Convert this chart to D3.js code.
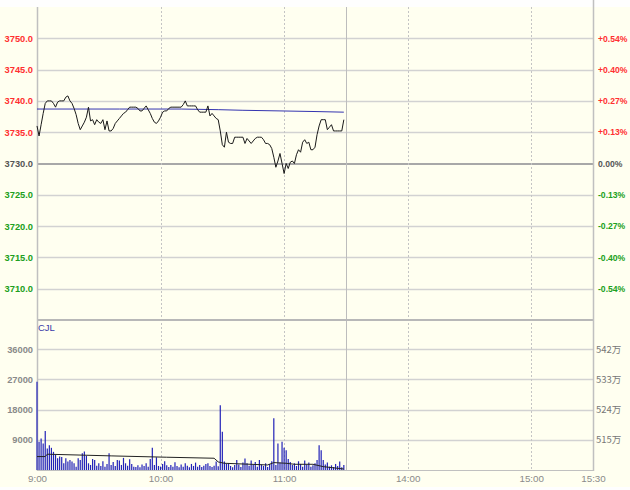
<!DOCTYPE html>
<html><head><meta charset="utf-8">
<script src="https://cdn.jsdelivr.net/npm/d3@7"></script>
<style>
html,body{margin:0;padding:0;background:#fffff0;}
svg{display:block;}
text{font-family:"Liberation Sans",Arial,sans-serif;}
</style></head>
<body>
<svg id="c" width="630" height="490"></svg>
<script>
// ---- data ----
const basePrice = 3730;
const priceTicks = [3710, 3715, 3720, 3725, 3730, 3735, 3740, 3745, 3750];
const volTicks = [9000, 18000, 27000, 36000];
const oiTicks = [515, 524, 533, 542];
const timeTickMinutes = [0, 60, 120, 180, 240, 270];
const timeTickLabels = ["9:00", "10:00", "11:00", "14:00", "15:00", "15:30"];
const dottedMinutes = [60, 120, 180, 240];
const breakMinute = 150;

// minute-by-minute last price, 9:00 .. 11:29
const prices = [
3736.0,3734.4,3736.2,3738.0,3739.6,3740.0,3740.0,3740.0,3739.6,3739.0,
3739.8,3740.0,3740.0,3740.0,3740.6,3740.8,3740.0,3739.6,3738.8,3737.8,
3736.4,3735.4,3736.0,3736.6,3737.4,3739.0,3736.8,3737.0,3736.2,3737.0,
3736.6,3736.4,3737.0,3735.4,3736.8,3735.2,3735.2,3735.6,3736.4,3736.8,
3737.2,3737.6,3738.0,3738.2,3738.6,3739.0,3739.0,3739.0,3739.0,3738.8,
3738.4,3738.4,3738.8,3739.2,3738.6,3738.0,3737.2,3736.6,3736.4,3736.8,
3737.4,3738.2,3738.4,3738.4,3738.8,3739.0,3739.0,3739.0,3739.0,3739.0,
3739.0,3739.4,3740.0,3739.2,3739.2,3739.2,3739.2,3739.2,3738.6,3738.2,
3738.2,3738.2,3738.2,3739.2,3737.6,3738.0,3737.6,3737.2,3737.0,3735.2,
3733.0,3732.6,3735.0,3733.4,3733.2,3733.2,3734.2,3734.2,3734.2,3734.2,
3734.2,3733.2,3734.0,3733.6,3733.2,3733.6,3734.0,3734.2,3734.2,3734.2,
3733.8,3733.2,3733.2,3733.0,3732.4,3731.0,3729.4,3730.4,3731.6,3730.0,
3728.4,3730.0,3729.2,3730.2,3730.4,3730.0,3731.4,3732.2,3731.8,3733.4,
3733.8,3733.2,3733.4,3732.2,3732.2,3732.6,3734.6,3736.0,3737.0,3737.0,
3737.0,3735.4,3735.8,3736.2,3735.2,3735.2,3735.2,3735.2,3735.2,3737.0
];

// average price line, read at key minutes
const avgMinutes = [0, 40, 70, 88, 100, 118, 135, 149];
const avgValues  = [3738.7, 3738.7, 3738.7, 3738.6, 3738.5, 3738.4, 3738.3, 3738.2];

// minute volumes (CJL)
const volumes = [
26300,8400,9400,7900,11600,6400,7400,6600,5400,4500,
3500,4000,3900,2000,3500,2500,3000,2500,2000,1000,
3500,3000,5000,5500,4200,2000,1500,3300,3000,1300,
2000,1200,2600,1000,1800,5000,1500,2400,1200,3000,
2800,1500,3600,2000,1300,3200,1800,1000,900,1400,
800,1600,1200,2000,1000,3300,6600,1500,3800,1200,
1000,1800,2600,1400,900,1500,1000,2300,1200,800,
1600,1000,2000,1300,800,1800,1200,2200,1000,1500,
900,1300,1800,2000,1200,900,1300,2500,1100,19300,
11400,2500,1800,2000,1200,800,1500,3000,1600,900,
2200,3400,2000,1300,2800,1500,2400,1000,3000,1600,
1200,2000,900,1800,2600,15400,1500,7900,2200,8400,
6600,5900,3300,2400,1500,2000,1200,2600,1800,1000,
2800,1600,2200,1000,1400,2000,3000,7400,5900,3000,
1600,2200,1000,1400,900,1800,1200,2500,800,1500
];

// open interest (万), read at key minutes
const oiMinutes = [0, 4, 5, 36, 63, 86, 88, 91, 112, 115, 121, 125, 134, 139, 149];
const oiValues  = [510.0, 510.0, 510.7, 510.2, 509.8, 509.5, 508.4, 508.0, 507.5, 508.2, 508.0, 507.7, 507.7, 507.0, 506.3];

// ---- layout ----
const L = 37, R = 593, T = 7, PB = 320, VB = 470;
const svg = d3.select("#c");

svg.append("rect").attr("x",0).attr("y",0).attr("width",630).attr("height",490).attr("fill","#fffff0");
svg.append("rect").attr("x",0).attr("y",0).attr("width",630).attr("height",T).attr("fill","#fefefe");
svg.append("rect").attr("x",0).attr("y",487).attr("width",630).attr("height",3).attr("fill","#fefefe");

const x = d3.scaleLinear().domain([0, 270]).range([L, R]);
const yP = d3.scaleLinear().domain([3705, 3755]).range([PB, T]);
const yV = d3.scaleLinear().domain([0, 44640]).range([VB, PB]);
const yOI = d3.scaleLinear().domain([506, 550.64]).range([VB, PB]);

const gridCol = "#d2d2d2";
const FONT = "'Liberation Sans',Arial,sans-serif";

// horizontal grid (price)
svg.append("g").selectAll("line").data(priceTicks.filter(d => d !== basePrice)).join("line")
  .attr("x1", L).attr("x2", R).attr("y1", d => Math.round(yP(d)) + 0.5).attr("y2", d => Math.round(yP(d)) + 0.5)
  .attr("stroke", gridCol).attr("stroke-width", 1.5);
// base line
svg.append("line").attr("x1", L).attr("x2", R)
  .attr("y1", Math.round(yP(basePrice))).attr("y2", Math.round(yP(basePrice)))
  .attr("stroke", "#a8a8a8").attr("stroke-width", 2);
// volume grid
svg.append("g").selectAll("line").data(volTicks).join("line")
  .attr("x1", L).attr("x2", R).attr("y1", d => Math.round(yV(d)) + 0.5).attr("y2", d => Math.round(yV(d)) + 0.5)
  .attr("stroke", gridCol).attr("stroke-width", 1.5);

// vertical dotted
svg.append("g").selectAll("line").data(dottedMinutes).join("line")
  .attr("x1", d => Math.round(x(d)) + 0.5).attr("x2", d => Math.round(x(d)) + 0.5)
  .attr("y1", T).attr("y2", VB)
  .attr("stroke", "#c4c4c4").attr("stroke-width", 1).attr("stroke-dasharray", "2,2");
// session break
svg.append("line").attr("x1", Math.round(x(breakMinute)) + 0.5).attr("x2", Math.round(x(breakMinute)) + 0.5)
  .attr("y1", T).attr("y2", VB).attr("stroke", "#bdbdbd").attr("stroke-width", 1);

// panel borders
svg.append("line").attr("x1", L).attr("x2", R).attr("y1", PB).attr("y2", PB).attr("stroke", "#b8b8b8").attr("stroke-width", 2);
svg.append("line").attr("x1", L).attr("x2", R).attr("y1", VB + 0.5).attr("y2", VB + 0.5).attr("stroke", "#c0c0c0").attr("stroke-width", 1);
svg.append("line").attr("x1", L + 0.5).attr("x2", L + 0.5).attr("y1", T).attr("y2", VB + 1).attr("stroke", "#c0c0c0").attr("stroke-width", 1.5);
svg.append("line").attr("x1", R + 0.5).attr("x2", R + 0.5).attr("y1", 0).attr("y2", VB + 1).attr("stroke", "#c0c0c0").attr("stroke-width", 1.5);

// price axes
const colFor = d => d > basePrice ? "#ff3030" : (d < basePrice ? "#20a020" : "#555555");
const leftP = svg.append("g").attr("transform", `translate(${L - 4},0)`)
  .call(d3.axisLeft(yP).tickValues(priceTicks).tickSize(0).tickPadding(0).tickFormat(d3.format(".1f")));
leftP.select(".domain").remove();
leftP.selectAll("text").attr("fill", d => colFor(d)).style("font-size", "9.3px").style("font-weight", "bold")
  .style("font-family", FONT);

const pctFmt = d => {
  const p = (d - basePrice) / basePrice * 100;
  const s = Math.abs(p).toFixed(2) + "%";
  return p > 0.0001 ? "+" + s : (p < -0.0001 ? "-" + s : s);
};
const rightP = svg.append("g").attr("transform", `translate(${R + 5},0)`)
  .call(d3.axisRight(yP).tickValues(priceTicks).tickSize(0).tickPadding(0).tickFormat(pctFmt));
rightP.select(".domain").remove();
rightP.selectAll("text").attr("fill", d => colFor(d)).style("font-size", "8.6px").style("font-weight", "bold")
  .style("font-family", FONT);

// volume axes
const leftV = svg.append("g").attr("transform", `translate(${L - 4},0)`)
  .call(d3.axisLeft(yV).tickValues(volTicks).tickSize(0).tickPadding(0).tickFormat(d3.format("d")));
leftV.select(".domain").remove();
leftV.selectAll("text").attr("fill", "#8a8a8a").style("font-size", "9.3px").style("font-weight", "bold")
  .style("font-family", FONT);
const rightV = svg.append("g").attr("transform", `translate(${R + 3},0)`)
  .call(d3.axisRight(yOI).tickValues(oiTicks).tickSize(0).tickPadding(0).tickFormat(d => d + "万"));
rightV.select(".domain").remove();
rightV.selectAll("text").attr("fill", "#777777").style("font-size", "9.5px")
  .style("font-family", "'Noto Sans CJK SC','Liberation Sans',sans-serif");

// time axis
const xa = svg.append("g").attr("transform", `translate(0,${VB + 5})`)
  .call(d3.axisBottom(x).tickValues(timeTickMinutes).tickSize(0).tickPadding(0)
    .tickFormat((d, i) => timeTickLabels[i]));
xa.select(".domain").remove();
xa.selectAll("text").attr("fill", "#8a8a8a").style("font-size", "9.8px")
  .style("font-family", FONT);

// CJL label
svg.append("text").attr("x", L + 1).attr("y", PB + 11).text("CJL")
  .attr("fill", "#3a3aa8").style("font-size", "9.5px");

// volume bars
svg.append("g").selectAll("line").data(volumes).join("line")
  .attr("x1", (d, i) => x(i)).attr("x2", (d, i) => x(i))
  .attr("y1", VB).attr("y2", d => yV(d))
  .attr("stroke", "#2222b8").attr("stroke-width", 1.2);

// open interest line
svg.append("path").datum(oiMinutes.map((m, i) => [m, oiValues[i]]))
  .attr("d", d3.line().x(d => x(d[0])).y(d => yOI(d[1])))
  .attr("fill", "none").attr("stroke", "#222").attr("stroke-width", 1);

// avg price line
svg.append("path").datum(avgMinutes.map((m, i) => [m, avgValues[i]]))
  .attr("d", d3.line().x(d => x(d[0])).y(d => yP(d[1])))
  .attr("fill", "none").attr("stroke", "#3535b0").attr("stroke-width", 1);

// price line
svg.append("path").datum(prices)
  .attr("d", d3.line().x((d, i) => x(i)).y(d => yP(d)))
  .attr("fill", "none").attr("stroke", "#1a1a1a").attr("stroke-width", 1);
</script>
</body></html>
